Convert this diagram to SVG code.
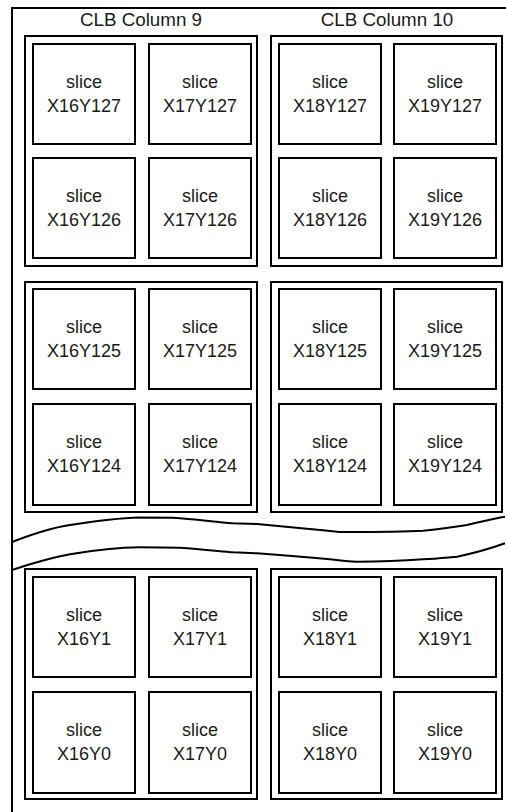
<svg xmlns="http://www.w3.org/2000/svg" width="506" height="812" viewBox="0 0 506 812">
<style>
.frame{fill:none;stroke:#000;stroke-width:2}
.grp{fill:#fff;stroke:#000;stroke-width:2}
.sl{fill:#fff;stroke:#000;stroke-width:2}
.t{font-family:"Liberation Sans",Arial,sans-serif;font-size:18px;fill:#1a1a1a;text-anchor:middle}
.title{font-size:18.8px}
.wave{fill:none;stroke:#000;stroke-width:2;stroke-linejoin:round}
</style>
<rect width="506" height="812" fill="#fff"/>
<path class="frame" d="M12,812 V8 H506"/>
<text class="t title" x="141" y="26">CLB Column 9</text>
<text class="t title" x="387" y="26">CLB Column 10</text>

<g id="connectors">
<path class="wave" d="M12,542 C30,535 50,528 70,525 C95,521 120,518 140,517.5 L173,517.7 C195,519 215,522 233,523.3 L257,524 C280,526 300,528 320,530 C330,531 337,532 343,532 C370,532 400,532 423,530.7 C440,529 455,527 467,525 C480,522 495,518 505,516.7"/>
<path class="wave" d="M12,570 C30,564 50,558 70,554.3 C95,550 120,547.5 140,547.3 L180,547.7 C200,549 218,551 233,552.3 L257,553.3 C280,555 305,557 330,559.3 C340,560.5 350,561.5 357,561.7 C380,561.5 405,560.5 423,559.3 C437,558.5 447,557.5 457,556.7 C475,553 492,548 505,543.3"/>
</g>

<g id="col9-rowA">
<rect class="grp" x="25" y="36" width="232" height="230"/>
</g>
<g id="col10-rowA">
<rect class="grp" x="271" y="36" width="231" height="230"/>
</g>
<g id="col9-rowB">
<rect class="grp" x="25" y="282" width="232" height="230"/>
</g>
<g id="col10-rowB">
<rect class="grp" x="271" y="282" width="231" height="230"/>
</g>
<g id="col9-rowC">
<rect class="grp" x="25" y="569" width="232" height="230"/>
</g>
<g id="col10-rowC">
<rect class="grp" x="271" y="569" width="231" height="230"/>
</g>

<g id="X16Y127"><rect class="sl" x="33" y="44" width="102" height="100"/><text class="t" x="84" y="88">slice</text><text class="t" x="84" y="112">X16Y127</text></g>
<g id="X17Y127"><rect class="sl" x="149" y="44" width="102" height="100"/><text class="t" x="200" y="88">slice</text><text class="t" x="200" y="112">X17Y127</text></g>
<g id="X18Y127"><rect class="sl" x="279" y="44" width="102" height="100"/><text class="t" x="330" y="88">slice</text><text class="t" x="330" y="112">X18Y127</text></g>
<g id="X19Y127"><rect class="sl" x="394" y="44" width="102" height="100"/><text class="t" x="445" y="88">slice</text><text class="t" x="445" y="112">X19Y127</text></g>

<g id="X16Y126"><rect class="sl" x="33" y="158" width="102" height="100"/><text class="t" x="84" y="202">slice</text><text class="t" x="84" y="226">X16Y126</text></g>
<g id="X17Y126"><rect class="sl" x="149" y="158" width="102" height="100"/><text class="t" x="200" y="202">slice</text><text class="t" x="200" y="226">X17Y126</text></g>
<g id="X18Y126"><rect class="sl" x="279" y="158" width="102" height="100"/><text class="t" x="330" y="202">slice</text><text class="t" x="330" y="226">X18Y126</text></g>
<g id="X19Y126"><rect class="sl" x="394" y="158" width="102" height="100"/><text class="t" x="445" y="202">slice</text><text class="t" x="445" y="226">X19Y126</text></g>

<g id="X16Y125"><rect class="sl" x="33" y="289" width="102" height="100"/><text class="t" x="84" y="333">slice</text><text class="t" x="84" y="357">X16Y125</text></g>
<g id="X17Y125"><rect class="sl" x="149" y="289" width="102" height="100"/><text class="t" x="200" y="333">slice</text><text class="t" x="200" y="357">X17Y125</text></g>
<g id="X18Y125"><rect class="sl" x="279" y="289" width="102" height="100"/><text class="t" x="330" y="333">slice</text><text class="t" x="330" y="357">X18Y125</text></g>
<g id="X19Y125"><rect class="sl" x="394" y="289" width="102" height="100"/><text class="t" x="445" y="333">slice</text><text class="t" x="445" y="357">X19Y125</text></g>

<g id="X16Y124"><rect class="sl" x="33" y="404" width="102" height="101"/><text class="t" x="84" y="448">slice</text><text class="t" x="84" y="472">X16Y124</text></g>
<g id="X17Y124"><rect class="sl" x="149" y="404" width="102" height="101"/><text class="t" x="200" y="448">slice</text><text class="t" x="200" y="472">X17Y124</text></g>
<g id="X18Y124"><rect class="sl" x="279" y="404" width="102" height="101"/><text class="t" x="330" y="448">slice</text><text class="t" x="330" y="472">X18Y124</text></g>
<g id="X19Y124"><rect class="sl" x="394" y="404" width="102" height="101"/><text class="t" x="445" y="448">slice</text><text class="t" x="445" y="472">X19Y124</text></g>

<g id="X16Y1"><rect class="sl" x="33" y="577" width="102" height="100"/><text class="t" x="84" y="621">slice</text><text class="t" x="84" y="645">X16Y1</text></g>
<g id="X17Y1"><rect class="sl" x="149" y="577" width="102" height="100"/><text class="t" x="200" y="621">slice</text><text class="t" x="200" y="645">X17Y1</text></g>
<g id="X18Y1"><rect class="sl" x="279" y="577" width="102" height="100"/><text class="t" x="330" y="621">slice</text><text class="t" x="330" y="645">X18Y1</text></g>
<g id="X19Y1"><rect class="sl" x="394" y="577" width="102" height="100"/><text class="t" x="445" y="621">slice</text><text class="t" x="445" y="645">X19Y1</text></g>

<g id="X16Y0"><rect class="sl" x="33" y="692" width="102" height="101"/><text class="t" x="84" y="736">slice</text><text class="t" x="84" y="760">X16Y0</text></g>
<g id="X17Y0"><rect class="sl" x="149" y="692" width="102" height="101"/><text class="t" x="200" y="736">slice</text><text class="t" x="200" y="760">X17Y0</text></g>
<g id="X18Y0"><rect class="sl" x="279" y="692" width="102" height="101"/><text class="t" x="330" y="736">slice</text><text class="t" x="330" y="760">X18Y0</text></g>
<g id="X19Y0"><rect class="sl" x="394" y="692" width="102" height="101"/><text class="t" x="445" y="736">slice</text><text class="t" x="445" y="760">X19Y0</text></g>
</svg>
